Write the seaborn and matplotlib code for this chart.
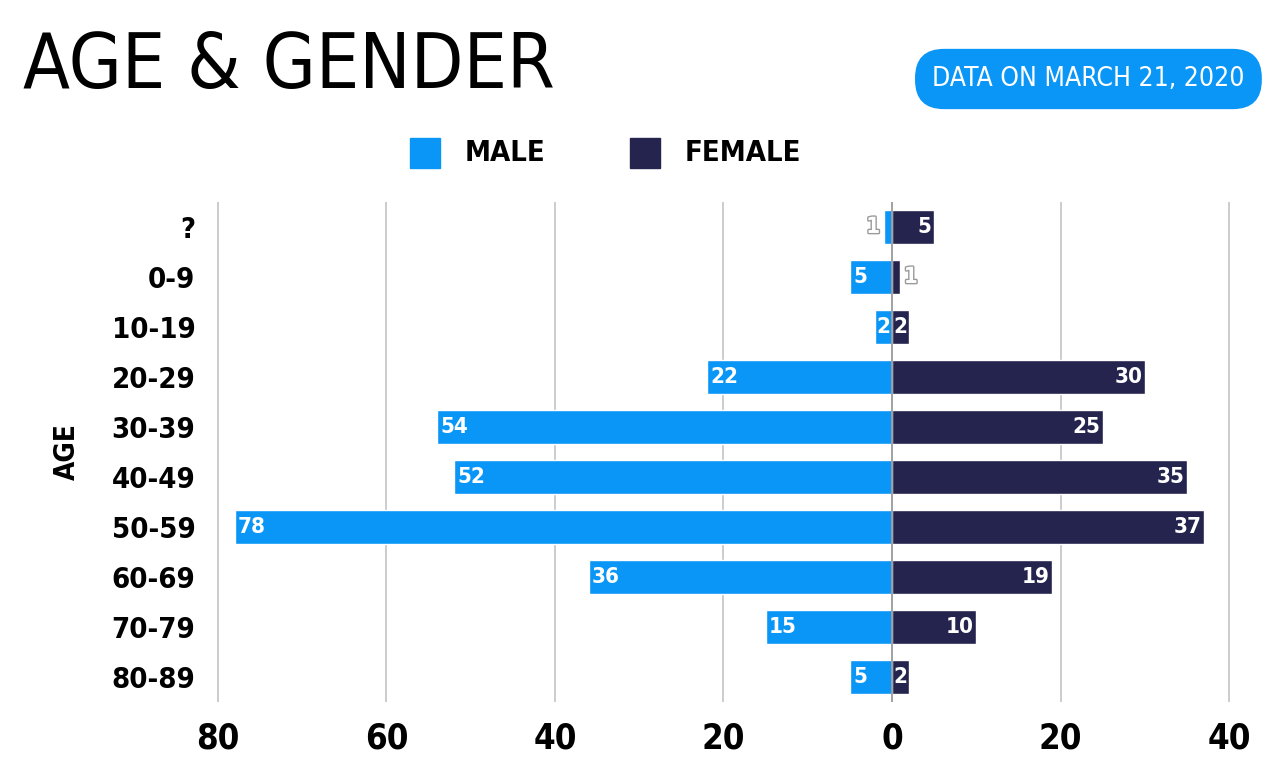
import matplotlib
matplotlib.use("Agg")
import matplotlib.pyplot as plt
import matplotlib.patheffects as pe
from matplotlib.patches import Rectangle
import seaborn as sns
import pandas as pd

ages = ["?", "0-9", "10-19", "20-29", "30-39", "40-49", "50-59", "60-69", "70-79", "80-89"]
male = [1, 5, 2, 22, 54, 52, 78, 36, 15, 5]
female = [5, 1, 2, 30, 25, 35, 37, 19, 10, 2]
xticks = [-80, -60, -40, -20, 0, 20, 40]
xticklabels = ["80", "60", "40", "20", "0", "20", "40"]

MALE_C = "#0A96F7"
FEMALE_C = "#25244F"

sns.set_theme(style="white")
FONT = ["DejaVu Sans Condensed", "Liberation Sans Narrow", "DejaVu Sans"]
plt.rcParams["font.family"] = FONT
plt.rcParams["font.stretch"] = "condensed"

fig = plt.figure(figsize=(12.76, 7.67), dpi=100)
ax = fig.add_axes([0.1575, 0.0847, 0.819, 0.652])

df = pd.DataFrame({"age": ages, "male": [-v for v in male], "female": female})
sns.barplot(data=df, x="male", y="age", orient="h", color=MALE_C, width=0.68,
            saturation=1, ax=ax, order=ages)
sns.barplot(data=df, x="female", y="age", orient="h", color=FEMALE_C, width=0.68,
            saturation=1, ax=ax, order=ages)

ax.set_xlim(-82, 42)
ax.set_ylim(9.5, -0.5)
ax.set_xticks(xticks)
ax.set_xticklabels(xticklabels)
for x in xticks:
    ax.axvline(x, color="#c8c8c8" if x != 0 else "#9a9a9a", lw=1.3, zorder=0 if x != 0 else 3)
for s in ax.spines.values():
    s.set_visible(False)
ax.tick_params(axis="both", length=0)
ax.tick_params(axis="x", pad=14)
ax.tick_params(axis="y", pad=4)
for t in ax.get_xticklabels():
    t.set_fontsize(25); t.set_fontweight("bold"); t.set_color("black")
for t in ax.get_yticklabels():
    t.set_fontsize(21); t.set_fontweight("bold"); t.set_color("black")
ax.set_xlabel("")
ax.set_ylabel("AGE", fontsize=20, fontweight="bold", color="black", labelpad=22)

outline = [pe.withStroke(linewidth=2, foreground="#9a9a9a")]
FS = 16
for i, (m, f) in enumerate(zip(male, female)):
    if m >= 5:
        ax.text(-m + 0.4, i, str(m), ha="left", va="center", color="white",
                fontsize=FS, fontweight="bold", zorder=5)
    elif m >= 2:
        ax.text(-m / 2, i, str(m), ha="center", va="center", color="white",
                fontsize=FS, fontweight="bold", zorder=5)
    else:
        ax.text(-m - 0.4, i, str(m), ha="right", va="center", color="white",
                fontsize=FS, fontweight="bold", path_effects=outline, zorder=5)
    if f >= 5:
        ax.text(f - 0.3, i, str(f), ha="right", va="center", color="white",
                fontsize=FS, fontweight="bold", zorder=5)
    elif f >= 2:
        ax.text(f / 2, i, str(f), ha="center", va="center", color="white",
                fontsize=FS, fontweight="bold", zorder=5)
    else:
        ax.text(f + 0.4, i, str(f), ha="left", va="center", color="white",
                fontsize=FS, fontweight="bold", path_effects=outline, zorder=5)

# Title
fig.text(0.018, 0.912, "AGE & GENDER", fontsize=55, color="black", fontweight="light",
         ha="left", va="center")

# Badge
fig.text(0.853, 0.897, "DATA ON MARCH 21, 2020", fontsize=19, color="white",
         ha="center", va="center",
         bbox=dict(boxstyle="round,pad=0.65,rounding_size=1.1", fc=MALE_C, ec="none"))

# Legend
fig.patches.append(Rectangle((410 / 1276, 1 - 168 / 767), 30 / 1276, 30 / 767,
                             transform=fig.transFigure, color=MALE_C))
fig.text(465 / 1276, 1 - 153 / 767, "MALE", fontsize=21, fontweight="bold",
         ha="left", va="center", color="black")
fig.patches.append(Rectangle((630 / 1276, 1 - 168 / 767), 30 / 1276, 30 / 767,
                             transform=fig.transFigure, color=FEMALE_C))
fig.text(685 / 1276, 1 - 153 / 767, "FEMALE", fontsize=21, fontweight="bold",
         ha="left", va="center", color="black")

fig.savefig("out.png", dpi=100, facecolor="white")
